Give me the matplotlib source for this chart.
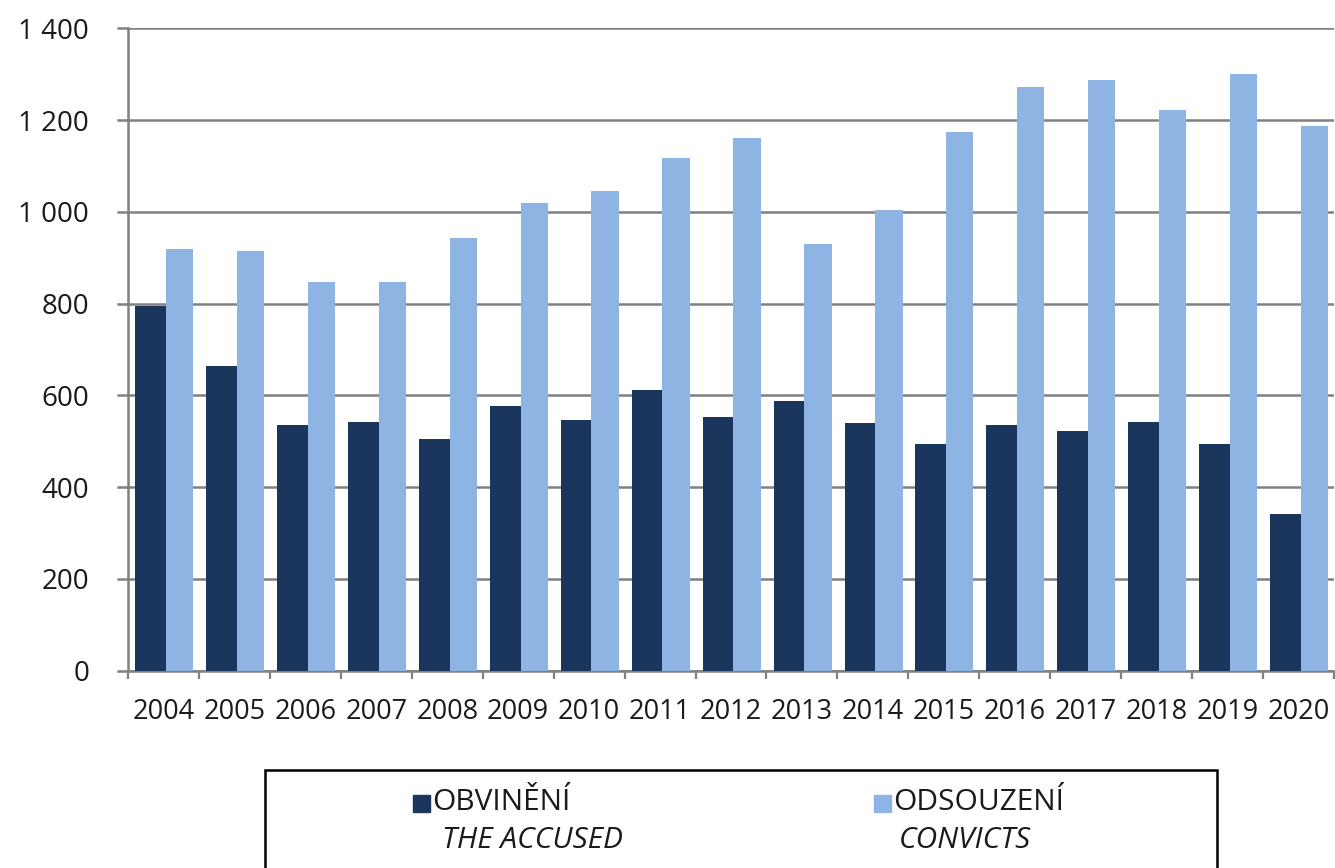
import matplotlib
matplotlib.use("Agg")
import matplotlib.pyplot as plt
from matplotlib.patches import Rectangle
from matplotlib.ticker import FuncFormatter, FixedLocator

years = ["2004", "2005", "2006", "2007", "2008", "2009", "2010", "2011", "2012",
         "2013", "2014", "2015", "2016", "2017", "2018", "2019", "2020"]
obvineni = [795, 663, 536, 542, 505, 577, 547, 612, 552, 588, 540, 493, 536, 523, 541, 493, 341]
odsouzeni = [920, 914, 848, 848, 943, 1020, 1046, 1118, 1160, 931, 1003, 1174, 1271, 1288, 1223, 1301, 1186]

DARK = "#1b365d"
LIGHT = "#8eb4e3"
GRID = "#808080"
TXT = "#1a1a1a"

W, H = 1335, 868
plt.rcParams["font.family"] = ["Open Sans", "DejaVu Sans"]

fig = plt.figure(figsize=(W / 100, H / 100), dpi=100)
ax = fig.add_axes([128 / W, 1 - 670.7 / H, (1334 - 128) / W, (670.7 - 28.3) / H])

x = list(range(len(years)))
dark_left = [i - 0.4 for i in x]
light_left = [i + 0.033 for i in x]
ax.bar(dark_left, obvineni, width=0.433, align="edge", color=DARK, zorder=3)
ax.bar(light_left, odsouzeni, width=0.385, align="edge", color=LIGHT, zorder=3)

ax.set_xlim(-0.5, len(years) - 0.5)
ax.set_ylim(0, 1400)
ax.set_yticks(range(0, 1401, 200))
ax.yaxis.set_major_formatter(FuncFormatter(lambda v, p: f"{int(v):,}".replace(",", " ")))
ax.yaxis.grid(True, color=GRID, linewidth=1.8, zorder=0)

ax.set_xticks(x)
ax.set_xticklabels(years)
ax.xaxis.set_minor_locator(FixedLocator([i - 0.5 for i in range(len(years) + 1)]))
ax.tick_params(axis="x", which="major", length=0, pad=20, labelsize=19.5, labelcolor=TXT)
ax.tick_params(axis="x", which="minor", length=6, width=1.6, color=GRID, direction="out")
ax.tick_params(axis="y", length=8, width=1.8, color=GRID, pad=20, labelsize=20, labelcolor=TXT)

for s in ["top", "right"]:
    ax.spines[s].set_visible(False)
for s in ["left", "bottom"]:
    ax.spines[s].set_color(GRID)
    ax.spines[s].set_linewidth(1.8)

# legend box
def fx(px):
    return px / W

def fy(py):
    return 1 - py / H

fig.patches.append(Rectangle((fx(265), fy(880)), fx(1217) - fx(265), fy(770) - fy(880),
                             transform=fig.transFigure, facecolor="white",
                             edgecolor="black", linewidth=1.8))
fig.patches.append(Rectangle((fx(413), fy(812)), fx(430) - fx(413), fy(795) - fy(812),
                             transform=fig.transFigure, color=DARK))
fig.patches.append(Rectangle((fx(874), fy(812)), fx(891) - fx(874), fy(795) - fy(812),
                             transform=fig.transFigure, color=LIGHT))
fig.text(fx(432), fy(802), "OBVINĚNÍ", fontsize=21.5, color=TXT, va="center", ha="left")
fig.text(fx(442), fy(840), "THE ACCUSED", fontsize=21.5, style="italic", color=TXT, va="center", ha="left")
fig.text(fx(893), fy(802), "ODSOUZENÍ", fontsize=21.5, color=TXT, va="center", ha="left")
fig.text(fx(899), fy(840), "CONVICTS", fontsize=21.5, style="italic", color=TXT, va="center", ha="left")

fig.savefig("out.png", dpi=100)
